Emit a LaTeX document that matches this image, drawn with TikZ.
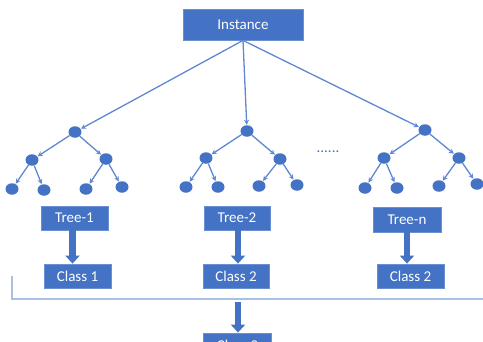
\documentclass[tikz,border=0pt]{standalone}
\usepackage{fontspec}
\setmainfont{Carlito}
\usetikzlibrary{arrows.meta,shapes.geometric}
\definecolor{boxblue}{HTML}{4472C4}
\definecolor{edgeblue}{HTML}{5F88D0}
\definecolor{rimblue}{HTML}{6A8FD2}
\definecolor{railblue}{HTML}{A9BFE6}
\tikzset{
  box/.style={rectangle, fill=boxblue, draw=rimblue, line width=0.8pt, text=white,
    inner sep=0pt, font=\fontsize{15}{18}\selectfont},
  dot/.style={ellipse, fill=boxblue, draw=none, minimum width=13pt, minimum height=11.5pt, inner sep=0pt},
  edge/.style={draw=edgeblue, line width=1.3pt, -{Stealth[length=5pt,width=5pt]}, shorten >=0.3pt},
  bigarrow/.style={draw=boxblue, line width=6.5pt, -{Triangle[length=8pt,width=14pt]}},
  rail/.style={draw=railblue, line width=1.3pt}
}
\begin{document}
\begin{tikzpicture}[x=1pt, y=-1pt]
\useasboundingbox (0,0) rectangle (483,341);
\clip (0,0) rectangle (483,341);

% root of the ensemble
\node[box, minimum width=120pt, minimum height=31pt] (inst) at (243,24.5) {Instance};

% tree 1
\node[dot] (r1) at (75,132) {};
\node[dot] (a1) at (32,160) {};
\node[dot] (b1) at (106,159) {};
\node[dot] (l11) at (12,189) {};
\node[dot] (l12) at (44,190) {};
\node[dot] (l13) at (86,189) {};
\node[dot] (l14) at (122,187) {};

% tree 2
\node[dot] (r2) at (247,131) {};
\node[dot] (a2) at (206,158) {};
\node[dot] (b2) at (280,159) {};
\node[dot] (l21) at (186,187) {};
\node[dot] (l22) at (218,187) {};
\node[dot] (l23) at (259,186) {};
\node[dot] (l24) at (297,185) {};

% tree n
\node[dot] (r3) at (425,130) {};
\node[dot] (a3) at (384,158) {};
\node[dot] (b3) at (459,158) {};
\node[dot] (l31) at (365,188) {};
\node[dot] (l32) at (397,188) {};
\node[dot] (l33) at (439,186) {};
\node[dot] (l34) at (477,184) {};

% ellipsis between the trees
\node[text=boxblue, font=\fontsize{15}{18}\selectfont, anchor=base, inner sep=0pt] (gap) at (328,152) {......};

% instance fed to every tree
\draw[edge] (inst.south) -- (r1);
\draw[edge] (inst.south) -- (r2);
\draw[edge] (inst.south) -- (r3);

% tree edges
\foreach \r/\a/\b/\p/\q/\s/\t in {r1/a1/b1/l11/l12/l13/l14, r2/a2/b2/l21/l22/l23/l24, r3/a3/b3/l31/l32/l33/l34}{
  \draw[edge] (\r) -- (\a);
  \draw[edge] (\r) -- (\b);
  \draw[edge] (\a) -- (\p);
  \draw[edge] (\a) -- (\q);
  \draw[edge] (\b) -- (\s);
  \draw[edge] (\b) -- (\t);
}

% tree labels and their votes
\node[box, minimum width=67pt, minimum height=24pt] (t1) at (74.5,218) {Tree-1};
\node[box, minimum width=66pt, minimum height=24pt] (t2) at (237,218) {Tree-2};
\node[box, minimum width=68pt, minimum height=25pt] (t3) at (407,219.5) {Tree-n};
\node[box, minimum width=67pt, minimum height=24pt] (c1) at (77.5,276) {Class 1};
\node[box, minimum width=66pt, minimum height=24pt] (c2) at (236,276) {Class 2};
\node[box, minimum width=67pt, minimum height=24pt] (c3) at (410.5,276) {Class 2};

\draw[bigarrow] (t1.south) ++(-2,0) coordinate (t1s) -- (t1s |- c1.north);
\draw[bigarrow] (t2.south) ++(1,0) coordinate (t2s) -- (t2s |- c2.north);
\draw[bigarrow] (t3.south) -- (t3.south |- c3.north);

% collecting rail
\coordinate (railtop) at (12,276);
\coordinate (railcorner) at (12,299);
\coordinate (railend) at (484,299);
\draw[rail] (railtop) -- (railcorner) -- (railend);

% final vote
\node[box, minimum width=68pt, minimum height=24pt] (fin) at (237.5,345) {Class 2};
\coordinate (railtap) at (238,302);
\draw[bigarrow] (railtap) -- (railtap |- fin.north);
\end{tikzpicture}
\end{document}
